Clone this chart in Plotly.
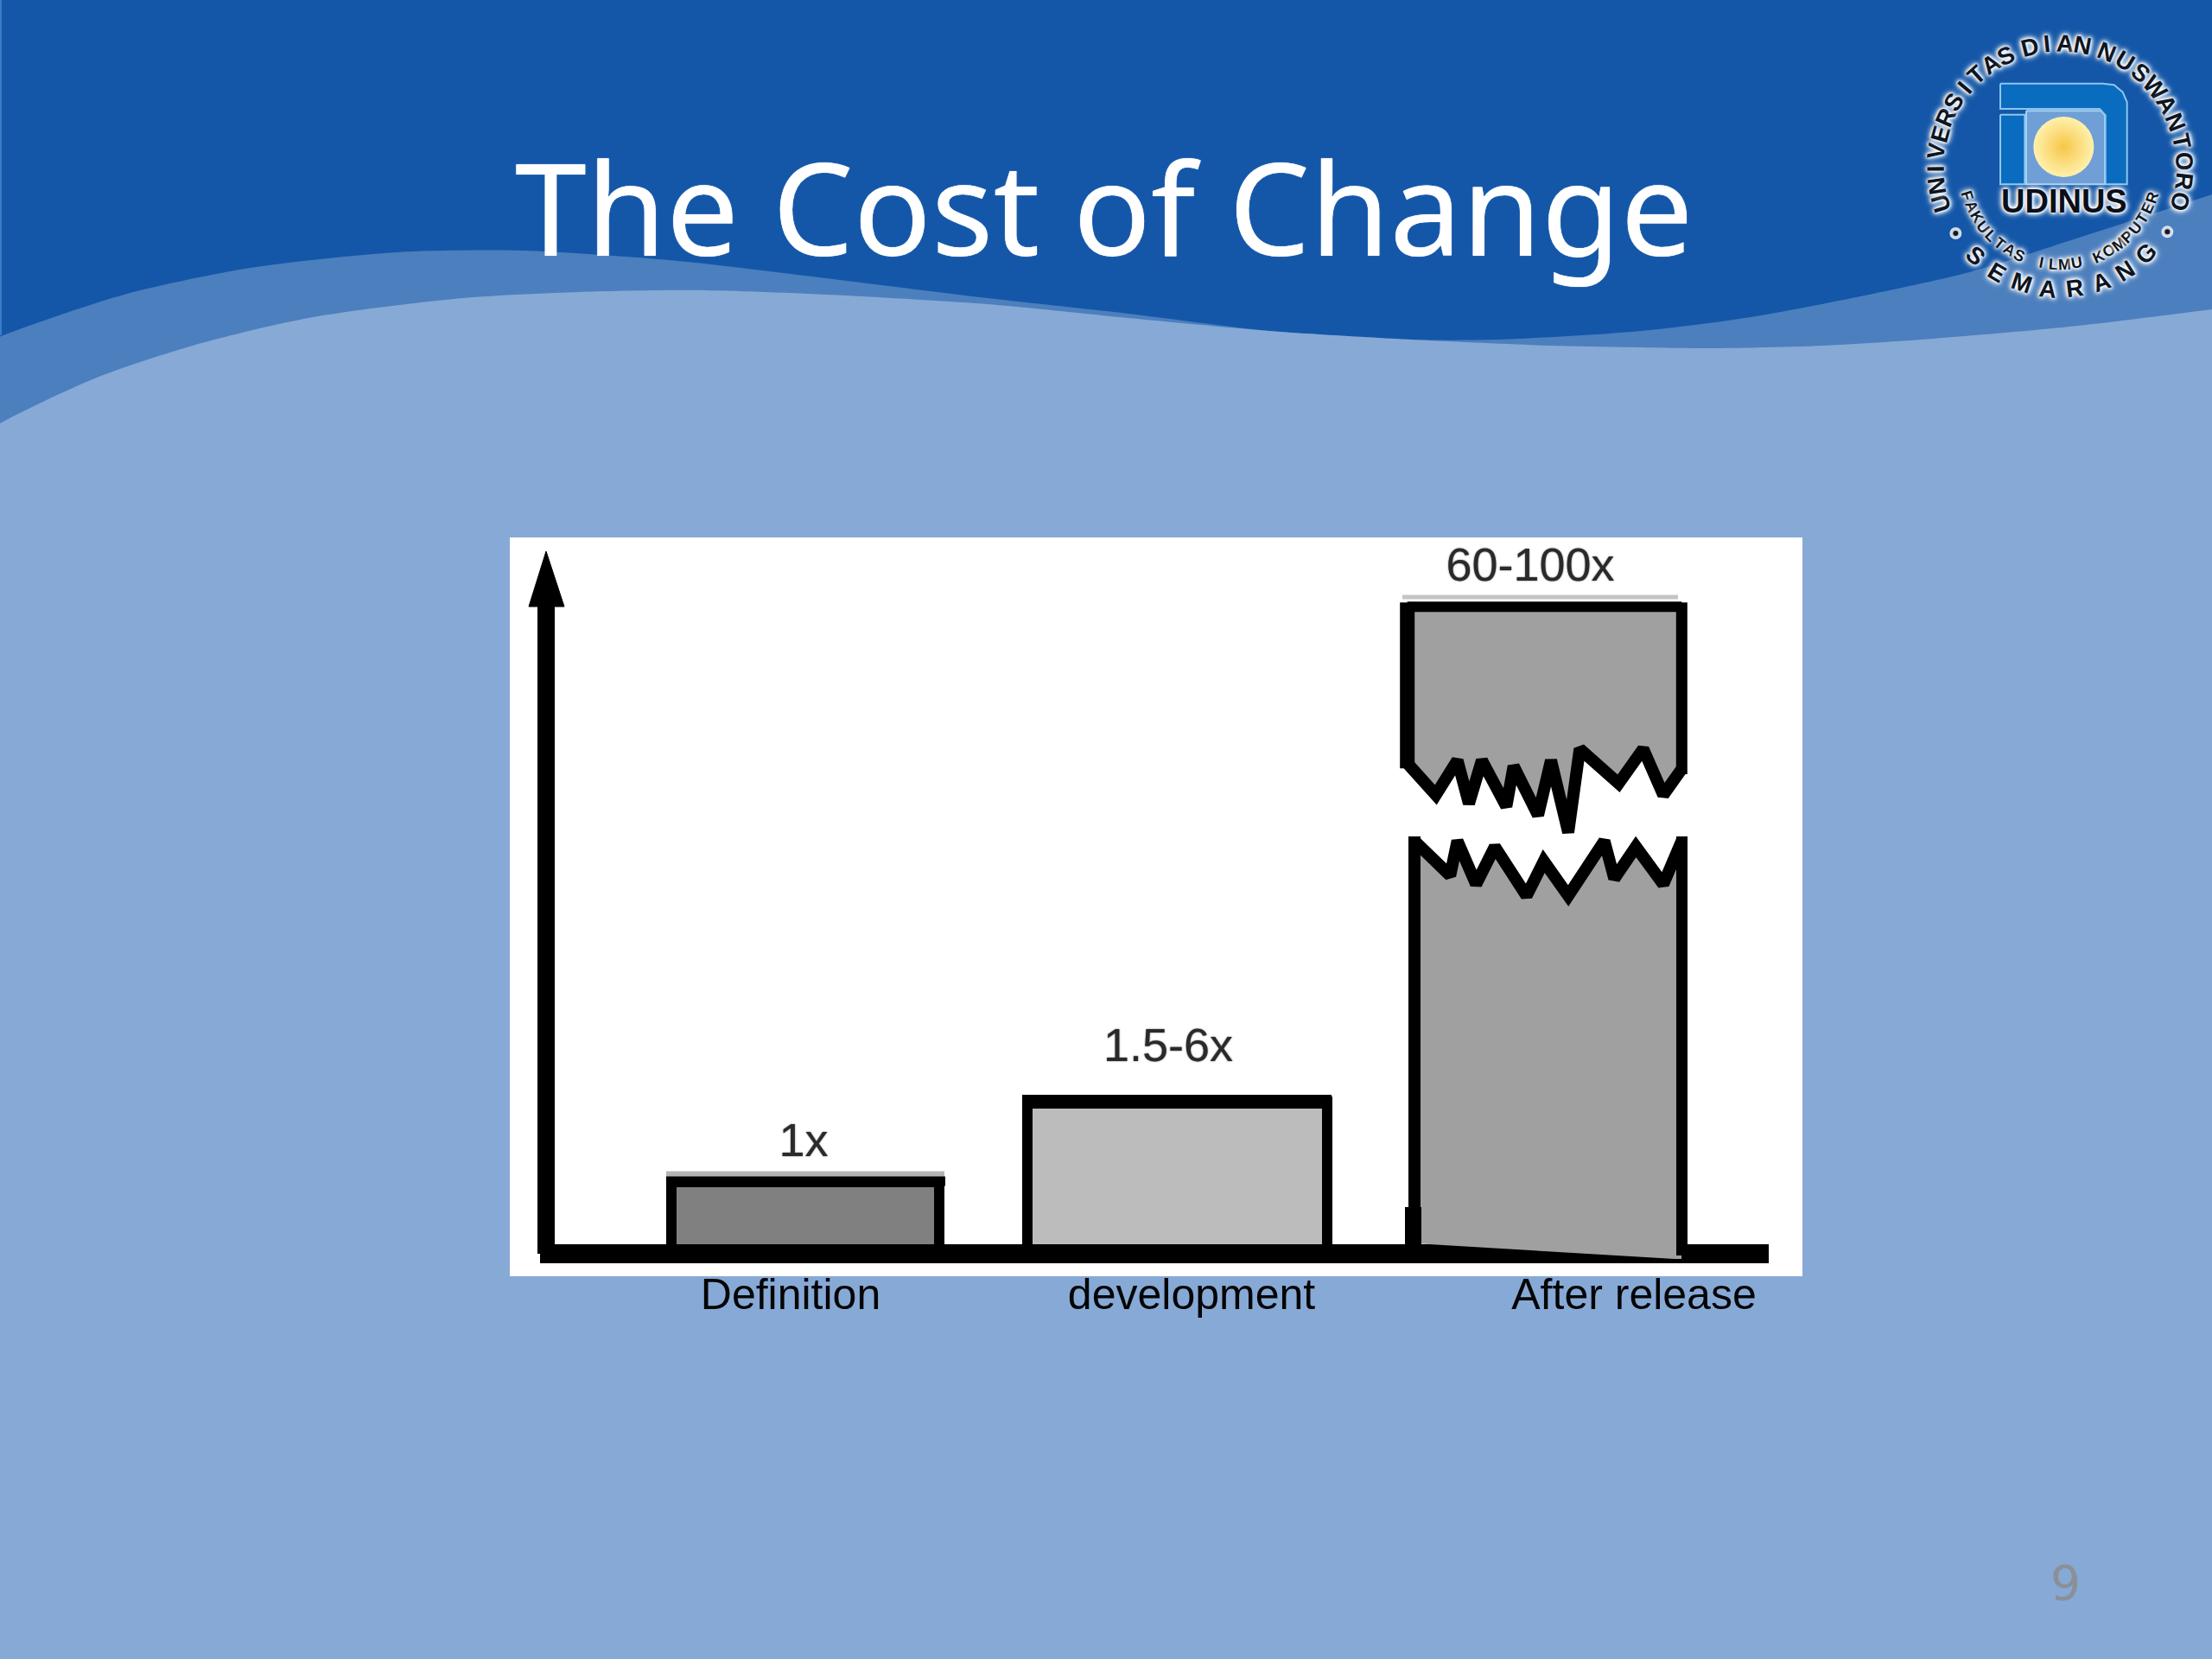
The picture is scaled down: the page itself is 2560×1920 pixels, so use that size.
import math
import plotly.graph_objects as go

# ---------- chart data (chart units: 0 = baseline) ----------
categories = ["Definition", "development", "After release"]
category_tick_x = [325, 789, 1301]
bar_x = [342, 772]
bar_width = [309.5, 347]
bar_height = [83.5, 176]
bar_colors = ["#808080", "#bcbcbc"]
cost_labels = ["1x", "1.5-6x", "60-100x"]
cost_label_x = [340, 762, 1181]
cost_label_y = [127, 237, 793]

# broken third bar: upper fragment and lower fragment outline
upper_x = [1038.7, 1038.7, 1071.7, 1096.7, 1110, 1125, 1153.3, 1161.7, 1190, 1205, 1225, 1238.3, 1283.3, 1311.7, 1335, 1356.3, 1356.3]
upper_y = [748.7, 567.7, 531, 571, 521, 571, 517.7, 564.3, 507.7, 571, 487.7, 584.3, 544.3, 584.3, 531, 561, 748.7]
lower_x = [1047, 1088.3, 1096.7, 1118.3, 1140, 1176.7, 1196.7, 1225, 1266.7, 1278.3, 1303.3, 1335, 1356.3]
lower_y = [477.7, 437.7, 477.7, 427.7, 471, 414.3, 454.3, 414.3, 477.7, 434.3, 471, 427.7, 477.7]
lower_base_x = [1356, 1348, 1057, 1047]
lower_base_y = [-6, -6, 12, 12]

# slide background waves (page pixels)
mid_wave_x = [-60, 4, 147, 290, 460, 604, 784, 980, 1143, 1306, 1469, 1633, 1731, 1900, 2026, 2153, 2279, 2400, 2560, 2620]
mid_wave_y = [416, 388, 340, 310, 292, 290, 302, 325, 345, 363, 383, 393, 393, 383, 367, 343, 315, 277, 225, 205]
light_wave_x = [-40, 0, 112, 223, 357, 536, 700, 816, 980, 1143, 1306, 1469, 1633, 1796, 1900, 1984, 2110, 2237, 2405, 2560, 2620]
light_wave_y = [516, 490, 437, 400, 368, 345, 337, 336, 342, 352, 368, 383, 393, 400, 402, 403, 400, 392, 377, 358, 350]
panel_x = [590, 2086, 2086, 590, 590]
panel_y = [622, 622, 1477, 1477, 622]

DARK, MID, LIGHT = "#1457a8", "#4c7fbd", "#87a9d6"

fig = go.Figure()


def page(x, y, **kw):
    fig.add_trace(go.Scatter(x=x, y=y, xaxis="x", yaxis="y", hoverinfo="skip", showlegend=False, **kw))


def chart(x, y, **kw):
    fig.add_trace(go.Scatter(x=x, y=y, xaxis="x2", yaxis="y2", hoverinfo="skip", showlegend=False, **kw))


def closed_wave(xs, ys):
    return xs + [xs[-1], xs[0], xs[0]], ys + [2100, 2100, ys[0]]


# waves
mx, my = closed_wave(mid_wave_x, mid_wave_y)
page(mx, my, mode="lines", fill="toself", fillcolor=MID, line=dict(color=MID, width=0, shape="spline", smoothing=0.8))
lx, ly = closed_wave(light_wave_x, light_wave_y)
page(lx, ly, mode="lines", fill="toself", fillcolor=LIGHT, line=dict(color=LIGHT, width=0, shape="spline", smoothing=0.8))
page([1, 1], [0, 388], mode="lines", line=dict(color="#3a7cc6", width=2))
page(panel_x, panel_y, mode="lines", fill="toself", fillcolor="#ffffff", line=dict(color="#ffffff", width=0))


# ---------- logo ----------
def lx_(v):
    return [2180 + a / 3 for a in v]


def ly_(v):
    return [a / 3 for a in v]


page(lx_([495, 755, 768, 768, 495, 495]), ly_([385, 385, 400, 640, 640, 385]), mode="lines", fill="toself",
     fillcolor="#6f9fd6", line=dict(color="#a9d2f2", width=2))
page(lx_([405, 760, 800, 830, 845, 845, 770, 770, 750, 405, 405]), ly_([290, 290, 295, 320, 355, 640, 640, 400, 378, 378, 290]),
     mode="lines", fill="toself", fillcolor="#0a6cbf", line=dict(color="#8cc6f0", width=2))
page(lx_([405, 490, 490, 405, 405]), ly_([398, 398, 640, 640, 398]), mode="lines", fill="toself",
     fillcolor="#0a6cbf", line=dict(color="#8cc6f0", width=2))
page(lx_([625]), ly_([510]), mode="markers",
     marker=dict(size=70, color="#fff1ad", line=dict(width=0), gradient=dict(type="radial", color="#f7c648")))
page(lx_([250, 985]), ly_([810, 805]), mode="markers",
     marker=dict(size=10, color="#0c1a2c", line=dict(width=4, color="rgba(255,255,255,0.8)")))

annotations = []
GLOW = "0 0 3px #fff, 0 0 4px #fff, 0 0 5px #fff, 0 0 7px #fff, 0 0 9px #fff"


def note(text, x, y, size, color, family, angle=0, shadow=None, bold=False):
    font = dict(size=size, color=color, family=family)
    if shadow:
        font["shadow"] = shadow
    if bold:
        font["weight"] = "bold"
    annotations.append(dict(text=text, x=x, y=y, xref="x", yref="y", showarrow=False, textangle=angle, font=font,
                            xanchor="center", yanchor="middle"))


LOGO_CX, LOGO_CY = 2384, 194


def arc_top(word, start, end, r, size):
    n = max(len(word) - 1, 1)
    for i, ch in enumerate(word):
        t = start + (end - start) * i / n
        a = math.radians(t)
        note(ch, LOGO_CX + r * math.sin(a), LOGO_CY - r * math.cos(a), size, "#0d1522",
             "Liberation Sans", t, GLOW, True)


def arc_bottom(word, start, end, r, size):
    n = max(len(word) - 1, 1)
    for i, ch in enumerate(word):
        if ch == " ":
            continue
        t = start + (end - start) * i / n
        a = math.radians(t)
        note(ch, LOGO_CX + r * math.sin(a), LOGO_CY + r * math.cos(a), size, "#0d1522",
             "Liberation Sans", -t, GLOW, True)


arc_top("UNIVERSITAS", -106.7, -25.7, 144, 28)
arc_top("DIAN", -14, 10.6, 144, 28)
arc_top("NUSWANTORO", 22, 105.6, 144, 28)
arc_bottom("SEMARANG", -43.5, 45, 141, 28)
arc_bottom("FAKULTAS ILMU KOMPUTER", -73, 72, 112, 18)
note("UDINUS", 2389, 233, 38, "#0a0f18", "Liberation Sans", 0, GLOW, True)

note("The Cost of Change", 1278, 238, 149, "#ffffff", "Noto Sans", 0, "0 0 1px #fff")
note("9", 2390, 1832, 55, "#8b8f97", "DejaVu Sans")

# ---------- chart ----------
fig.add_trace(go.Bar(x=bar_x, y=bar_height, width=bar_width, xaxis="x2", yaxis="y2", showlegend=False, hoverinfo="skip",
                     marker=dict(color=bar_colors, line=dict(color="#000000", width=12))))
# shadow and heavier caps on the first two bars
chart([181, 503], [92, 92], mode="lines", line=dict(color="#b4b4b4", width=7))
chart([181, 504], [84, 84], mode="lines", line=dict(color="#000000", width=11))
chart([593, 951], [176, 176], mode="lines", line=dict(color="#000000", width=16))

# axes
chart([42, 42], [0, 749], mode="lines", line=dict(color="#000000", width=20))
chart([22, 42, 63, 22], [749, 813, 749, 749], mode="lines", fill="toself", fillcolor="#000000", line=dict(color="#000000", width=1))
chart([35, 1457], [0, 0], mode="lines", line=dict(color="#000000", width=22))

# broken third bar
chart(upper_x, upper_y, mode="lines", fill="toself", fillcolor="#a0a0a0", line=dict(color="rgba(0,0,0,0)", width=0))
chart(lower_x + lower_base_x + lower_x[:1], lower_y + lower_base_y + lower_y[:1], mode="lines", fill="toself",
      fillcolor="#a0a0a0", line=dict(color="rgba(0,0,0,0)", width=0))
chart(upper_x[1:-1], upper_y[1:-1], mode="lines", line=dict(color="#000000", width=14))
chart([upper_x[0], upper_x[0]], [upper_y[0] + 5, upper_y[1] - 6], mode="lines", line=dict(color="#000000", width=17))
chart([upper_x[0], upper_x[-1]], [upper_y[0], upper_y[0]], mode="lines", line=dict(color="#000000", width=12))
chart([upper_x[-1], upper_x[-1]], [upper_y[0] + 5, upper_y[-2] - 6], mode="lines", line=dict(color="#000000", width=13))
chart(lower_x, lower_y, mode="lines", line=dict(color="#000000", width=14))
chart([1047, 1047], [483, 0], mode="lines", line=dict(color="#000000", width=14))
chart([1045.5, 1045.5], [54, 0], mode="lines", line=dict(color="#000000", width=19))
chart([1356.5, 1356.5], [483, -2], mode="lines", line=dict(color="#000000", width=13))
chart([1033, 1352], [760, 760], mode="lines", line=dict(color="#c4c4c4", width=5))

chart(cost_label_x, cost_label_y, mode="text", text=cost_labels,
      textfont=dict(family="Liberation Sans", size=54, color="#2a2a2a", shadow="0 0 2px #666"))

fig.update_layout(
    width=2560, height=1920, margin=dict(l=0, r=0, t=0, b=0), paper_bgcolor=DARK, plot_bgcolor="rgba(0,0,0,0)",
    xaxis=dict(domain=[0, 1], range=[0, 2560], visible=False, fixedrange=True),
    yaxis=dict(domain=[0, 1], range=[1920, 0], visible=False, fixedrange=True),
    xaxis2=dict(domain=[590 / 2560, 2086 / 2560], range=[0, 1496], anchor="y2", showgrid=False, zeroline=False,
                showline=False, ticks="", tickmode="array", tickvals=category_tick_x, ticktext=categories,
                ticklabelstandoff=-13,
                tickfont=dict(family="Liberation Sans", size=50, color="#050505"), tickangle=0),
    yaxis2=dict(domain=[1 - 1477 / 1920, 1 - 622 / 1920], range=[-26, 829], anchor="x2", visible=False),
    annotations=annotations, bargap=0, showlegend=False,
)

fig.write_html("out.html", config=dict(displayModeBar=False), post_script="document.body.style.margin='0';")
